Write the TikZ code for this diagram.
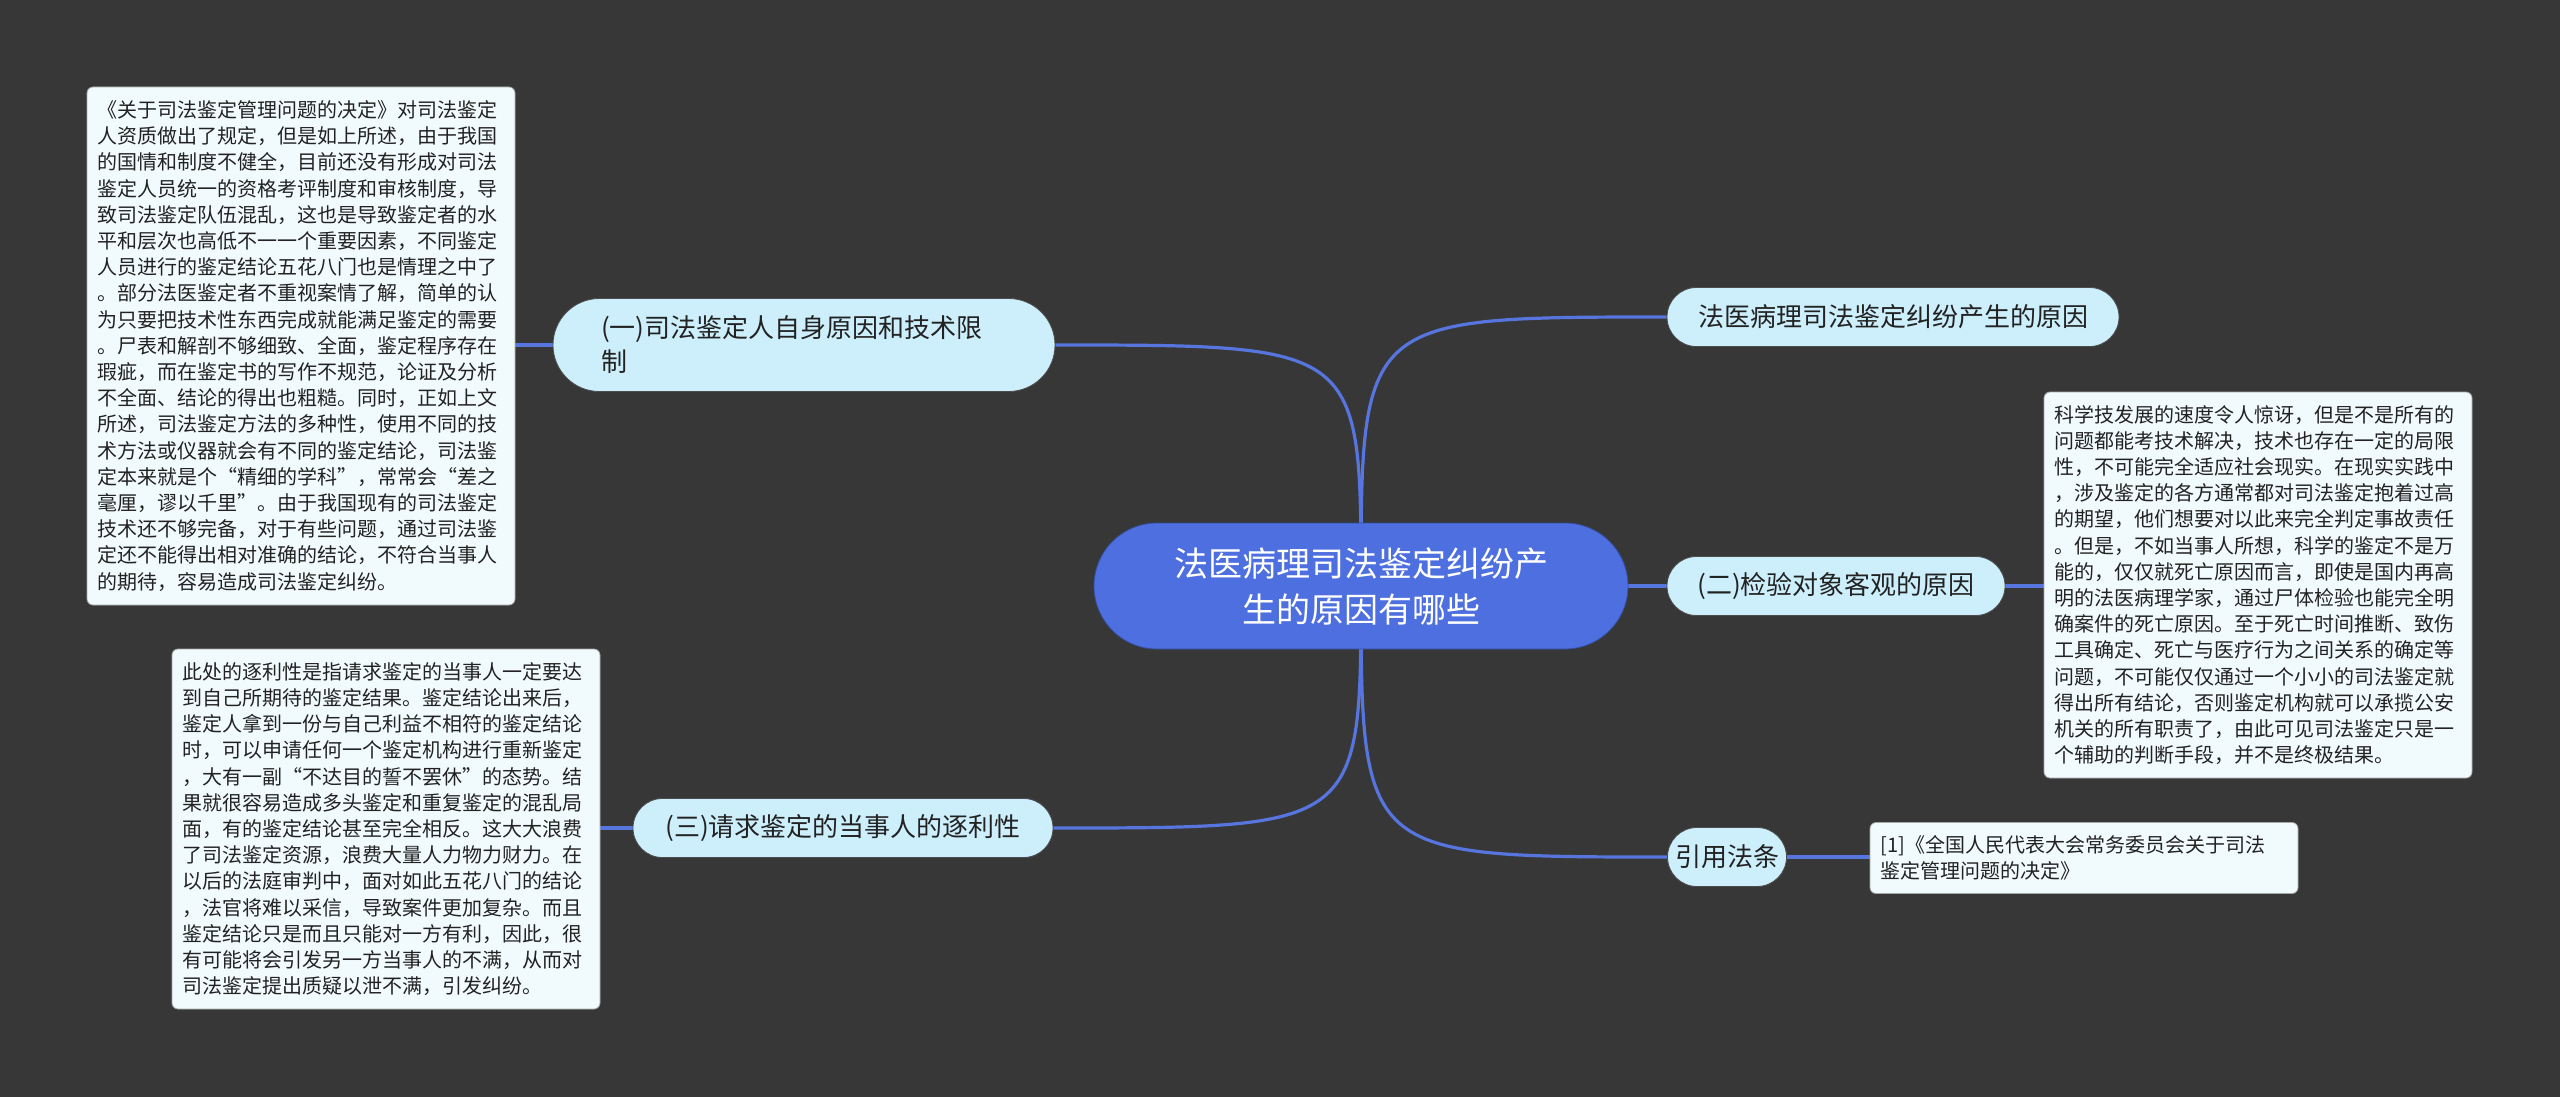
\documentclass[tikz,border=0pt]{standalone}
\usepackage{fontspec}
\setmainfont{Noto Sans CJK SC}
\usetikzlibrary{backgrounds}
\definecolor{bgc}{HTML}{373737}
\definecolor{rootc}{HTML}{4D6FDF}
\definecolor{branchc}{HTML}{CDEFFC}
\definecolor{leafc}{HTML}{F1FBFE}
\definecolor{connc}{HTML}{5775DE}
\definecolor{txtc}{HTML}{222222}
\tikzset{
  rootnode/.style={fill=rootc, draw=rootc!70!black, line width=0.8pt, text=white, rounded corners=63pt,
    minimum width=534pt, minimum height=126pt, inner sep=0pt, align=center,
    font=\fontsize{34}{46}\selectfont},
  branchnode/.style={fill=branchc, draw=black!70, line width=0.8pt, text=txtc, rounded corners=29.5pt,
    minimum height=59pt, inner sep=0pt, align=center, font=\fontsize{26}{34}\selectfont},
  leafnode/.style={fill=leafc, draw=black!35, line width=0.8pt, text=txtc, rounded corners=6pt,
    text width=407pt, inner xsep=10.5pt, inner ysep=0pt, align=left,
    font=\fontsize{20}{26.2}\selectfont},
  conn/.style={draw=connc, line width=3.2pt}
}
\begin{document}
\begin{tikzpicture}[x=1pt,y=-1pt]
\useasboundingbox (0,0) rectangle (2560,1097);
\begin{pgfonlayer}{background}
\fill[bgc] (0,0) rectangle (2560,1097);
\end{pgfonlayer}

% root
\node[rootnode] (c) at (1361,586) {法医病理司法鉴定纠纷产\\生的原因有哪些};

% right branches
\node[branchnode, minimum width=452pt] (n1) at (1893,317) {法医病理司法鉴定纠纷产生的原因};
\node[branchnode, minimum width=338pt] (n2) at (1836,586) {(二)检验对象客观的原因};
\node[branchnode, minimum width=119pt] (n3) at (1727,857) {引用法条};

% left branches
\node[branchnode, minimum width=502pt, minimum height=93pt, rounded corners=46.5pt,
      text width=406pt, inner xsep=48pt, align=left] (a1) at (804,345)
  {(一)司法鉴定人自身原因和技术限\\制};
\node[branchnode, minimum width=420pt] (a3) at (843,828) {(三)请求鉴定的当事人的逐利性};

% leaves
\node[leafnode, minimum height=518pt] (l1) at (301,346) {《关于司法鉴定管理问题的决定》对司法鉴定\\
人资质做出了规定，但是如上所述，由于我国\\
的国情和制度不健全，目前还没有形成对司法\\
鉴定人员统一的资格考评制度和审核制度，导\\
致司法鉴定队伍混乱，这也是导致鉴定者的水\\
平和层次也高低不一一个重要因素，不同鉴定\\
人员进行的鉴定结论五花八门也是情理之中了\\
。部分法医鉴定者不重视案情了解，简单的认\\
为只要把技术性东西完成就能满足鉴定的需要\\
。尸表和解剖不够细致、全面，鉴定程序存在\\
瑕疵，而在鉴定书的写作不规范，论证及分析\\
不全面、结论的得出也粗糙。同时，正如上文\\
所述，司法鉴定方法的多种性，使用不同的技\\
术方法或仪器就会有不同的鉴定结论，司法鉴\\
定本来就是个“精细的学科”，常常会“差之\\
毫厘，谬以千里”。由于我国现有的司法鉴定\\
技术还不够完备，对于有些问题，通过司法鉴\\
定还不能得出相对准确的结论，不符合当事人\\
的期待，容易造成司法鉴定纠纷。};

\node[leafnode, minimum height=360pt] (l3) at (386,829) {此处的逐利性是指请求鉴定的当事人一定要达\\
到自己所期待的鉴定结果。鉴定结论出来后，\\
鉴定人拿到一份与自己利益不相符的鉴定结论\\
时，可以申请任何一个鉴定机构进行重新鉴定\\
，大有一副“不达目的誓不罢休”的态势。结\\
果就很容易造成多头鉴定和重复鉴定的混乱局\\
面，有的鉴定结论甚至完全相反。这大大浪费\\
了司法鉴定资源，浪费大量人力物力财力。在\\
以后的法庭审判中，面对如此五花八门的结论\\
，法官将难以采信，导致案件更加复杂。而且\\
鉴定结论只是而且只能对一方有利，因此，很\\
有可能将会引发另一方当事人的不满，从而对\\
司法鉴定提出质疑以泄不满，引发纠纷。};

\node[leafnode, minimum height=386pt] (l2) at (2258,585) {科学技发展的速度令人惊讶，但是不是所有的\\
问题都能考技术解决，技术也存在一定的局限\\
性，不可能完全适应社会现实。在现实实践中\\
，涉及鉴定的各方通常都对司法鉴定抱着过高\\
的期望，他们想要对以此来完全判定事故责任\\
。但是，不如当事人所想，科学的鉴定不是万\\
能的，仅仅就死亡原因而言，即使是国内再高\\
明的法医病理学家，通过尸体检验也能完全明\\
确案件的死亡原因。至于死亡时间推断、致伤\\
工具确定、死亡与医疗行为之间关系的确定等\\
问题，不可能仅仅通过一个小小的司法鉴定就\\
得出所有结论，否则鉴定机构就可以承揽公安\\
机关的所有职责了，由此可见司法鉴定只是一\\
个辅助的判断手段，并不是终极结果。};

\node[leafnode, minimum height=71pt] (l4) at (2084,858) {[1]《全国人民代表大会常务委员会关于司法\\
鉴定管理问题的决定》};

% connectors (behind nodes)
\begin{pgfonlayer}{background}
\draw[conn] (c.center) .. controls (c.center |- n1.west) .. (n1.west);
\draw[conn] (c.center) -- (n2.west);
\draw[conn] (c.center) .. controls (c.center |- n3.west) .. (n3.west);
\draw[conn] (c.center) .. controls (c.center |- a1.east) .. (a1.east);
\draw[conn] (c.center) .. controls (c.center |- a3.east) .. (a3.east);
\draw[conn] (a1.west) -- (a1.west -| l1.east);
\draw[conn] (a3.west) -- (a3.west -| l3.east);
\draw[conn] (n2.east) -- (n2.east -| l2.west);
\draw[conn] (n3.east) -- (n3.east -| l4.west);
\end{pgfonlayer}
\end{tikzpicture}
\end{document}
